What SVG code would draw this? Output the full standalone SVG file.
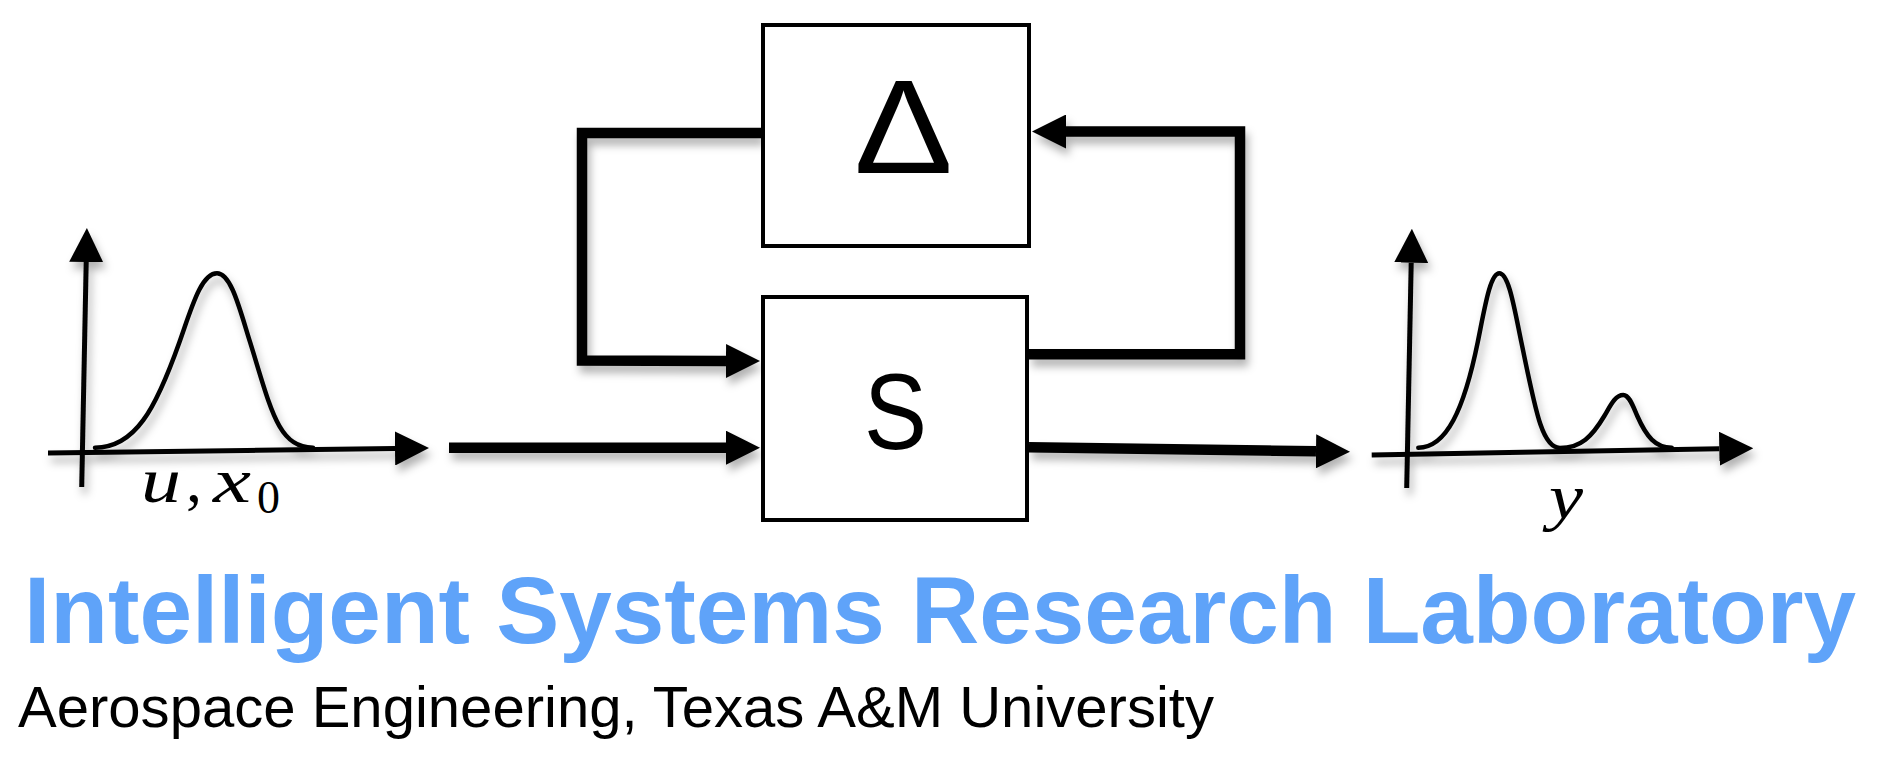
<svg xmlns="http://www.w3.org/2000/svg" width="1893" height="759" viewBox="0 0 1893 759">
  <style>
    .box { fill: #ffffff; stroke: #000000; stroke-width: 4; }
    .conn { fill: none; stroke: #000000; stroke-width: 10.5; stroke-linejoin: miter; stroke-linecap: butt; }
    .axis { fill: none; stroke: #000000; stroke-width: 5; }
    .curve { fill: none; stroke: #000000; stroke-width: 4.5; stroke-linecap: round; stroke-linejoin: round; }
    .sym { font-family: "Liberation Sans", Arial, sans-serif; fill: #000000; }
    .math { font-family: "Liberation Serif", "Times New Roman", serif; fill: #000000; }
    .title { font-family: "Liberation Sans", Arial, sans-serif; font-weight: bold; fill: #5FA3F9; }
    .sub { font-family: "Liberation Sans", Arial, sans-serif; fill: #000000; }
  </style>
  <defs>
    <marker id="ah" viewBox="0 0 34 34" refX="0" refY="17" markerWidth="34" markerHeight="34" markerUnits="userSpaceOnUse" orient="auto">
      <path d="M0,0 L34,17 L0,34 Z" fill="#000000"/>
    </marker>
    <filter id="shadow" filterUnits="userSpaceOnUse" x="0" y="0" width="1893" height="759">
      <feDropShadow dx="3" dy="7" stdDeviation="4" flood-color="#000000" flood-opacity="0.3"/>
    </filter>
  </defs>

  <rect width="1893" height="759" fill="#ffffff"/>

  <g id="connectors" filter="url(#shadow)">
    <path id="edge-delta-to-s" class="conn" d="M761,133 L582,133 L582,360.5 L726,361" marker-end="url(#ah)"/>
    <path id="edge-input-to-s" class="conn" d="M449,447.7 L726,447.7" marker-end="url(#ah)"/>
    <path id="edge-s-to-delta" class="conn" d="M1029,354.3 L1240,354.3 L1240,131.5 L1066,131.5" marker-end="url(#ah)"/>
    <path id="edge-s-to-output" class="conn" d="M1029,447.3 L1316,451.3" marker-end="url(#ah)"/>
  </g>

  <g id="node-delta">
    <rect class="box" x="763" y="25" width="266" height="221"/>
    <text class="sym" x="854" y="173" font-size="134" textLength="99" lengthAdjust="spacingAndGlyphs">Δ</text>
  </g>

  <g id="node-s">
    <rect class="box" x="763" y="297" width="264" height="223"/>
    <text class="sym" x="864" y="449" font-size="108" textLength="63" lengthAdjust="spacingAndGlyphs">S</text>
  </g>

  <g id="graph-input">
    <g filter="url(#shadow)">
      <path class="axis" d="M81.7,487 L86.2,262" marker-end="url(#ah)"/>
      <path class="axis" d="M48,453 L395,448.5" marker-end="url(#ah)"/>
      <path class="curve" d="M95,447.7 C135,447.7 155.5,409.6 179.5,341.9 C191.5,308.1 201,273.3 217,273.3 C231,273.3 239.4,308 250,341.9 C271,409.1 278,447.7 313,447.7"/>
    </g>
    <text class="math" font-size="64" font-style="italic" x="141" y="502" textLength="40" lengthAdjust="spacingAndGlyphs">u</text>
    <text class="math" font-size="64" x="186" y="502">,</text>
    <text class="math" font-size="64" font-style="italic" x="213" y="502" textLength="38" lengthAdjust="spacingAndGlyphs">x</text>
    <text class="math" font-size="46" x="257" y="513">0</text>
  </g>

  <g id="graph-output">
    <g filter="url(#shadow)">
      <path class="axis" d="M1406.7,488 L1411.2,262.7" marker-end="url(#ah)"/>
      <path class="axis" d="M1371.7,455 L1719.3,448.8" marker-end="url(#ah)"/>
      <path class="curve" d="M1418.3,447.7 C1446.3,447.7 1464,409.8 1477.8,341.9 C1484.7,308 1490.1,273.3 1499.3,273.3 C1508.8,273.3 1514.3,308.2 1521.3,341.9 C1535.4,409.7 1541.8,448 1560,448 C1580.8,448 1592.1,436.5 1604.3,416 C1610.4,405.7 1615.1,395 1623.3,395 C1629.3,395 1632.8,405.7 1637.3,416 C1646.3,436.5 1655.5,447.7 1671.7,447.7"/>
    </g>
    <text class="math" font-size="64" font-style="italic" x="1549" y="518" textLength="34" lengthAdjust="spacingAndGlyphs">y</text>
  </g>

  <g id="title">
    <text class="title" x="24" y="643" font-size="94.5" textLength="1832" lengthAdjust="spacingAndGlyphs">Intelligent Systems Research Laboratory</text>
    <text class="sub" x="18" y="727" font-size="58" textLength="1196" lengthAdjust="spacingAndGlyphs">Aerospace Engineering, Texas A&amp;M University</text>
  </g>
</svg>
